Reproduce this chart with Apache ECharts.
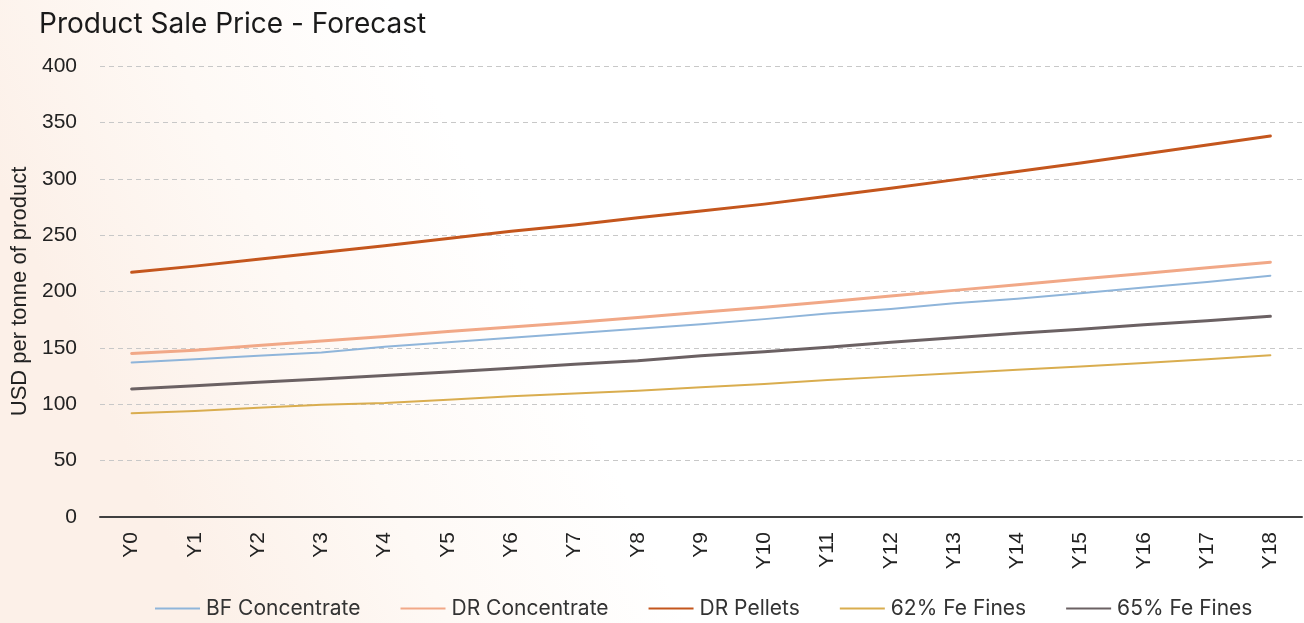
<!DOCTYPE html>
<html>
<head>
<meta charset="utf-8">
<style>
  html, body { margin: 0; padding: 0; background: #ffffff; }
  #chart { width: 1304px; height: 623px; }
</style>
<script src="https://cdn.jsdelivr.net/npm/echarts@6/dist/echarts.min.js"></script>
</head>
<body>
<div id="chart"></div>
<script>
// Forecast years
const years = ['Y0','Y1','Y2','Y3','Y4','Y5','Y6','Y7','Y8','Y9','Y10','Y11','Y12','Y13','Y14','Y15','Y16','Y17','Y18'];

// Sale price per product, USD per tonne
const bfConcentrate = [137, 140, 143, 146, 151, 155, 159, 163, 167, 171, 175.5, 180.5, 184.5, 189.5, 193.5, 198.5, 203.5, 208.5, 214];
const drConcentrate = [145, 148, 152, 156, 160, 164.5, 168.5, 172.5, 177, 181.5, 186, 191, 196, 201, 206, 211, 216, 221, 226];
const drPellets     = [217, 222.5, 228.5, 234.5, 240.5, 247, 253.5, 259, 265.5, 271.5, 277.5, 284.5, 291.5, 299, 306.5, 314, 322, 330, 338];
const fe62Fines     = [92, 94, 97, 99.5, 101, 104, 107, 109.5, 112, 115, 118, 121.5, 124.5, 127.5, 130.5, 133.5, 136.5, 140, 143.5];
const fe65Fines     = [113.5, 116.5, 119.5, 122.5, 125.5, 128.5, 132, 135.5, 138.5, 143, 146.5, 150.5, 155, 159, 163, 166.5, 170.5, 174, 178];

// Value axis ticks
const yTicks = [0, 50, 100, 150, 200, 250, 300, 350, 400];

const TITLE_FONT = 'Inter, "Open Sans", Roboto, sans-serif';
const AXIS_FONT = '"Liberation Sans", Arial, sans-serif';

const seriesDefs = [
  { name: 'BF Concentrate', data: bfConcentrate, color: '#8fb5da', width: 2 },
  { name: 'DR Concentrate', data: drConcentrate, color: '#f1a887', width: 3 },
  { name: 'DR Pellets',     data: drPellets,     color: '#c4561d', width: 3 },
  { name: '62% Fe Fines',   data: fe62Fines,     color: '#d9ad4f', width: 2 },
  { name: '65% Fe Fines',   data: fe65Fines,     color: '#6b6163', width: 3 }
];

const chart = echarts.init(document.getElementById('chart'), null, { renderer: 'canvas' });

chart.setOption({
  backgroundColor: {
    type: 'linear', x: 0, y: 0.3, x2: 0.3, y2: 0,
    colorStops: [
      { offset: 0, color: '#fcf0e8' },
      { offset: 0.5, color: '#fef9f5' },
      { offset: 1, color: '#ffffff' }
    ]
  },
  animation: false,
  title: {
    text: 'Product Sale Price - Forecast',
    left: 39,
    top: 8,
    padding: [0, 0, 0, 0],
    textStyle: { fontFamily: TITLE_FONT, fontSize: 28, fontWeight: 'normal', color: '#1a1a1a', lineHeight: 34 }
  },
  grid: { left: 100, right: 2, top: 66, bottom: 106, containLabel: false, outerBoundsMode: 'none' },
  legend: {
    top: 598,
    left: 155,
    padding: 0,
    itemWidth: 45,
    itemHeight: 12,
    itemGap: 40,
    icon: 'path://M0,5 L45,5 L45,7 L0,7 Z',
    textStyle: { fontFamily: TITLE_FONT, fontSize: 21, color: '#333333', padding: [0, 0, 0, 1] },
    data: seriesDefs.map(s => s.name)
  },
  xAxis: {
    type: 'category',
    data: years,
    boundaryGap: true,
    axisLine: { show: true, lineStyle: { color: '#404040', width: 2 } },
    axisTick: { show: false },
    axisLabel: {
      rotate: 90,
      margin: 15,
      fontFamily: AXIS_FONT,
      fontSize: 21,
      color: '#222222'
    },
    splitLine: { show: false }
  },
  yAxis: {
    type: 'value',
    min: yTicks[0],
    max: yTicks[yTicks.length - 1],
    interval: yTicks[1] - yTicks[0],
    name: 'USD per tonne of product',
    nameLocation: 'middle',
    nameGap: 69,
    nameRotate: 90,
    nameTextStyle: { fontFamily: AXIS_FONT, fontSize: 22, color: '#222222' },
    axisLine: { show: false },
    axisTick: { show: false },
    axisLabel: { margin: 23, fontFamily: AXIS_FONT, fontSize: 21, color: '#222222' },
    splitLine: { show: true, lineStyle: { color: '#c8c8c8', type: [5, 4], width: 1 } }
  },
  series: seriesDefs.map(s => ({
    name: s.name,
    type: 'line',
    data: s.data,
    symbol: 'none',
    smooth: false,
    color: s.color,
    lineStyle: { color: s.color, width: s.width, cap: 'round', join: 'round' },
    itemStyle: { color: s.color },
    z: 3
  }))
});
</script>
</body>
</html>
